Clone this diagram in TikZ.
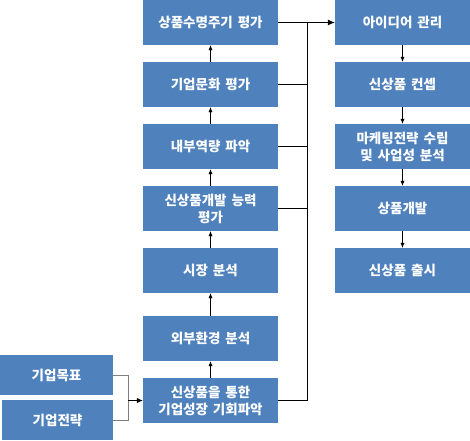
\documentclass[tikz,border=0pt]{standalone}
\usepackage{fontspec}
\setmainfont{Noto Sans CJK KR}[WordSpace=1.6]
\usetikzlibrary{arrows.meta, calc, positioning}

\definecolor{boxblue}{RGB}{79,129,189}
\definecolor{linegray}{RGB}{128,128,128}

\tikzset{
    stagebox/.style={rectangle, fill=boxblue, text=white, font=\fontsize{13.5}{17}\selectfont\bfseries,
        minimum width=135pt, minimum height=45pt, inner sep=0pt, align=center},
    upflow/.style={thin, -{Latex[length=5pt,width=4pt]}},
    busline/.style={thin, black},
}

\begin{document}
\begin{tikzpicture}[x=1pt, y=-1pt]
    \useasboundingbox (0,0) rectangle (470,440);

    % Left column
    \node[stagebox] (lifecycle) at (210.5,22.5) {상품수명주기 평가};
    \node[stagebox] (culture)   at (210.5,84.5) {기업문화 평가};
    \node[stagebox] (internal)  at (210.5,146.5) {내부역량 파악};
    \node[stagebox] (capability) at (210.5,208.5) {신상품개발 능력\\평가};
    \node[stagebox] (market)    at (210.5,270.5) {시장 분석};
    \node[stagebox] (external)  at (210.5,338.5) {외부환경 분석};
    \node[stagebox] (chance)    at (210.5,400.5) {신상품을 통한\\기업성장 기회파악};

    % Right column
    \node[stagebox] (idea)    at (402.5,22.5) {아이디어 관리};
    \node[stagebox] (concept) at (402.5,84.5) {신상품 컨셉};
    \node[stagebox] (plan)    at (402.5,146.5) {마케팅전략 수립\\및 사업성 분석};
    \node[stagebox] (develop) at (402.5,208.5) {상품개발};
    \node[stagebox] (launch)  at (402.5,270.5) {신상품 출시};

    % Inputs
    \node[stagebox, minimum width=113pt, minimum height=40pt] (goal)     at (56.5,375) {기업목표};
    \node[stagebox, minimum width=111pt, minimum height=40pt] (strategy) at (57.5,420) {기업전략};

    % Upward flow in the left column
    \draw[upflow] (chance.north) -- (external.south);
    \draw[upflow] (external.north) -- (market.south);
    \draw[upflow] (market.north) -- (capability.south);
    \draw[upflow] (capability.north) -- (internal.south);
    \draw[upflow] (internal.north) -- (culture.south);
    \draw[upflow] (culture.north) -- (lifecycle.south);

    % Downward flow in the right column
    \draw[upflow] (idea.south) -- (concept.north);
    \draw[upflow] (concept.south) -- (plan.north);
    \draw[upflow] (plan.south) -- (develop.north);
    \draw[upflow] (develop.south) -- (launch.north);

    % Collecting line
    \coordinate (bus) at (307,0);
    \draw[busline] (chance.east) -- (chance.east -| bus) -- (lifecycle.east -| bus);
    \draw[busline] (culture.east) -- (culture.east -| bus);
    \draw[busline] (internal.east) -- (internal.east -| bus);
    \draw[busline] (capability.east) -- (capability.east -| bus);
    \draw[thick, -{Latex[length=7pt,width=6pt]}] (lifecycle.east) -- (idea.west);

    % Inputs to the opportunity box
    \coordinate (join) at (128,0);
    \draw[linegray, thick] (goal.east) -- (goal.east -| join) -- (strategy.east -| join) -- (strategy.east);
    \draw[thin, -{Latex[length=6pt,width=5pt]}] (chance.west -| join) -- (chance.west);

\end{tikzpicture}
\end{document}
